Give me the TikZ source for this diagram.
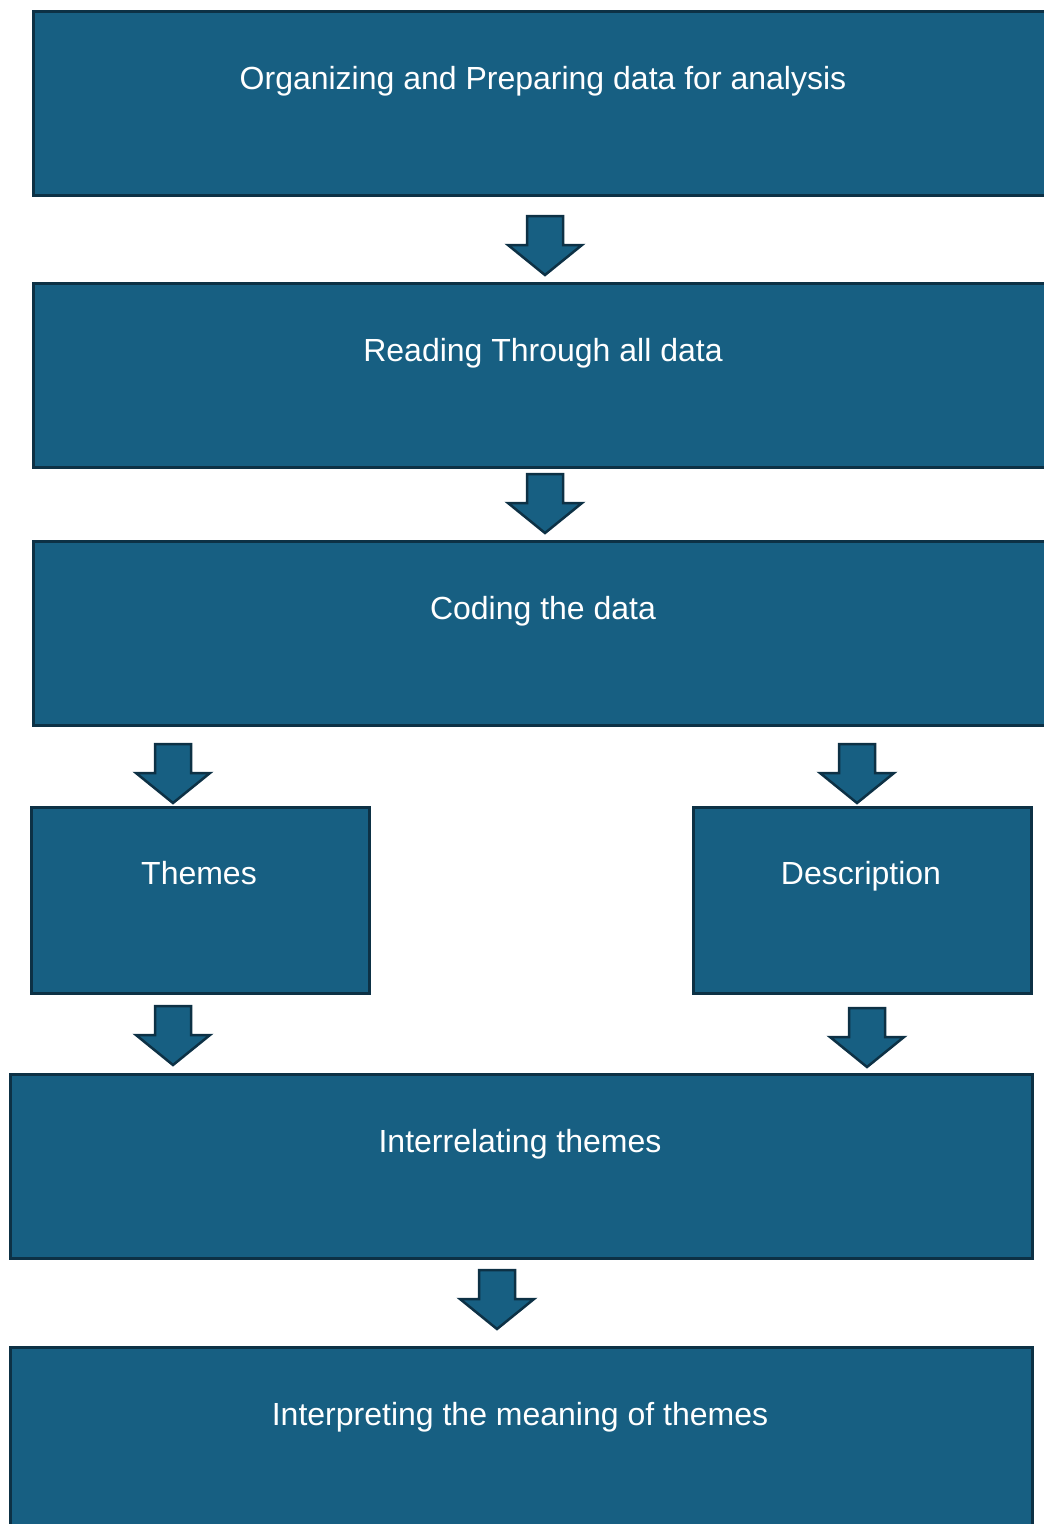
\documentclass[tikz,border=0pt]{standalone}
\usepackage{fontspec}
\setmainfont{Liberation Sans}

\definecolor{boxblue}{HTML}{175F82}
\definecolor{boxline}{HTML}{0D3145}

\tikzset{
  stepbox/.style={rectangle, draw=boxline, line width=2.5pt, fill=boxblue, inner sep=0pt, anchor=north west},
  widebox/.style={stepbox, minimum width=1022pt, minimum height=184pt},
  halfbox/.style={stepbox, minimum width=338pt, minimum height=186pt},
  boxtext/.style={text=white, font=\fontsize{32}{38}\selectfont, inner sep=0pt, anchor=base},
  downarrow/.pic={
    \draw[boxline, line width=2.5pt, fill=boxblue, line join=miter]
      (-18,0) -- (18,0) -- (18,29) -- (37,29) -- (0,59) -- (-37,29) -- (-18,29) -- cycle;
  }
}

\begin{document}
\begin{tikzpicture}[x=1pt, y=-1pt]
\useasboundingbox (0,0) rectangle (1044,1524);
\clip (0,0) rectangle (1044,1524);

% steps
\node[widebox] (organize) at (32,10) {};
\node[widebox] (reading) at (32,282) {};
\node[widebox] (coding) at (32,540) {};
\node[halfbox] (themes) at (30,806) {};
\node[halfbox] (description) at (692,806) {};
\node[widebox] (interrelate) at (9,1073) {};
\node[widebox] (interpret) at (9,1346) {};

% labels, placed on their baselines
\node[boxtext] (organizetext) at (543,89) {Organizing and Preparing data for analysis};
\node[boxtext] (readingtext) at (543,361) {Reading Through all data};
\node[boxtext] (codingtext) at (543,619) {Coding the data};
\node[boxtext] (themestext) at (199,884) {Themes};
\node[boxtext] (descriptiontext) at (861,884) {Description};
\node[boxtext] (interrelatetext) at (520,1152) {Interrelating themes};
\node[boxtext] (interprettext) at (520,1425) {Interpreting the meaning of themes};

% block arrows
\pic at (545,216) {downarrow};
\pic at (545,474) {downarrow};
\pic at (173,744) {downarrow};
\pic at (857,744) {downarrow};
\pic at (173,1006) {downarrow};
\pic at (867,1008) {downarrow};
\pic at (497,1270) {downarrow};
\end{tikzpicture}
\end{document}
